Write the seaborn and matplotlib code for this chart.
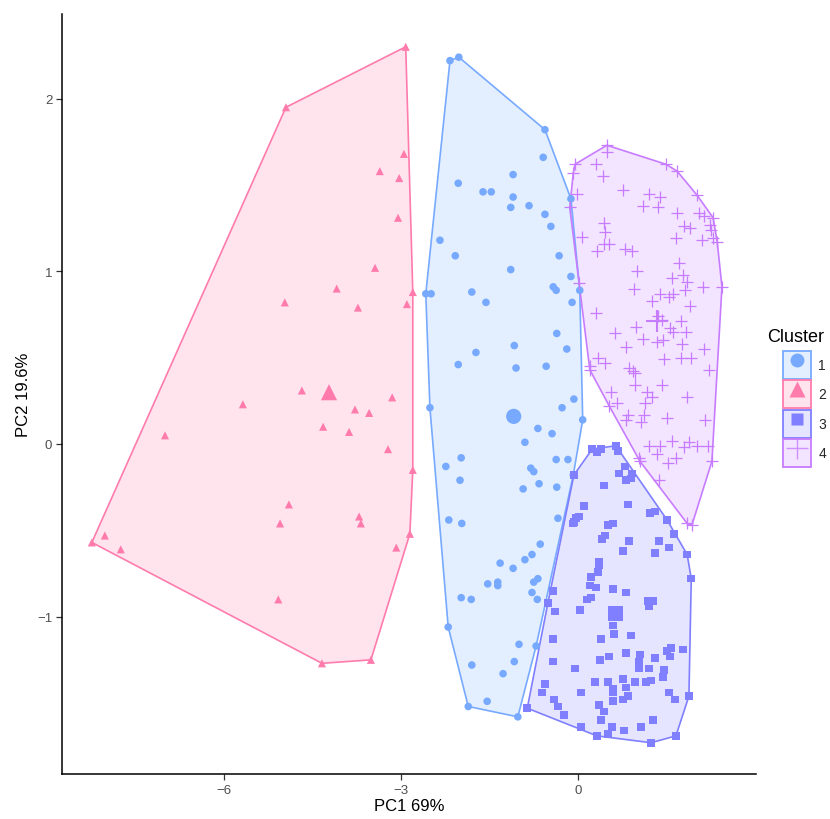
import numpy as np
import pandas as pd
import matplotlib
matplotlib.use("Agg")
import matplotlib.pyplot as plt
from matplotlib.patches import Polygon, Patch
from matplotlib.lines import Line2D
import seaborn as sns

# ---------------- data ----------------
c1_x = [-2.17, -2.02, -0.56, -0.59, -2.03, -1.61, -1.47, -1.10, -1.10, -1.14, -0.83, -0.56, -0.46, -0.12,
        -2.34, -2.08, -0.32, -1.14, -0.12, -0.42, -0.37, 0.03, -1.56, -0.10, -2.58, -2.49, -1.80, -0.36,
        -1.08, -0.19, -1.73, -2.03, -1.05, -0.54, -0.07, -0.27, -2.51, 0.08, -0.68, -0.44, -0.90, -1.98,
        -2.24, -0.37, -0.17, -0.80, -0.75, -2.00, -0.66, -0.93, -0.36, -0.08, -2.19, -1.97, -0.34, -0.64,
        -0.78, -0.90, -1.32, -1.10, -1.53, -1.36, -1.36, -0.68, -0.75, -0.78, -0.69, -1.98, -1.81, -2.20,
        -1.00, -0.71, -1.08, -1.80, -1.27, -1.86, -1.54, -1.02]
c1_y = [2.22, 2.24, 1.82, 1.66, 1.51, 1.46, 1.46, 1.56, 1.43, 1.37, 1.38, 1.33, 1.26, 1.42,
        1.18, 1.09, 1.09, 1.01, 0.97, 0.91, 0.89, 0.89, 0.82, 0.82, 0.87, 0.87, 0.88, 0.64,
        0.57, 0.55, 0.53, 0.46, 0.44, 0.45, 0.26, 0.21, 0.21, 0.14, 0.09, 0.06, 0.01, -0.08,
        -0.13, -0.09, -0.09, -0.14, -0.16, -0.21, -0.23, -0.26, -0.25, -0.18, -0.44, -0.46, -0.43, -0.58,
        -0.64, -0.67, -0.69, -0.72, -0.81, -0.80, -0.82, -0.78, -0.80, -0.86, -0.90, -0.89, -0.90, -1.06,
        -1.16, -1.17, -1.26, -1.28, -1.33, -1.52, -1.49, -1.58]

c2_x = [-2.92, -4.95, -2.95, -3.36, -3.03, -3.05, -3.44, -4.97, -4.09, -3.73, -2.90, -2.80, -4.68, -5.68,
        -7.00, -3.15, -3.78, -3.54, -4.32, -3.88, -3.22, -2.80, -4.90, -3.71, -3.68, -5.05, -8.24, -8.02,
        -7.75, -5.08, -4.34, -3.51, -2.85, -3.08]
c2_y = [2.30, 1.95, 1.68, 1.58, 1.54, 1.31, 1.02, 0.82, 0.90, 0.79, 0.81, 0.88, 0.31, 0.23,
        0.05, 0.27, 0.20, 0.18, 0.10, 0.07, -0.03, -0.15, -0.35, -0.42, -0.46, -0.46, -0.57, -0.53,
        -0.61, -0.90, -1.27, -1.25, -0.52, -0.60]

c3_x = [0.24, 0.32, 0.39, 0.64, 0.68, 0.80, 0.69, 0.92, 0.81, 0.90, 0.44, -0.07, 0.10, 0.85, 0.02, -0.03,
        -0.08, -0.07, 1.22, 1.31, 1.51, 0.51, 0.59, 1.63, 0.41, 0.46, 0.86, 1.37, 1.54, 0.76, 1.31, 1.85,
        0.36, 0.36, 0.34, 0.22, 1.92, 0.20, 0.31, 0.59, 0.81, -0.42, 0.22, 0.15, -0.51, 1.19, 1.27, 1.20,
        -0.39, 0.03, 0.59, 0.61, 0.90, -0.42, 0.39, 1.58, 1.78, 1.51, 1.56, 0.81, 1.05, 0.53, 0.37, 1.03,
        1.31, -0.42, -0.05, 1.03, 1.20, 1.46, 1.44, 0.76, 0.97, 0.51, 0.29, 1.15, 1.24, -0.56, 0.59, 0.81,
        0.59, -0.61, 0.05, 1.54, 0.76, 0.85, 1.64, 1.88, -0.41, 0.59, 0.36, -0.34, 0.44, -0.86, -0.24, 0.39,
        1.27, 0.05, 0.58, 0.78, 1.07, 0.32, 0.51, 1.24, 1.66]
c3_y = [-0.03, -0.05, -0.03, -0.01, -0.04, -0.13, -0.17, -0.17, -0.21, -0.20, -0.24, -0.18, -0.36, -0.35,
        -0.42, -0.43, -0.46, -0.45, -0.40, -0.39, -0.44, -0.47, -0.46, -0.52, -0.55, -0.53, -0.56, -0.56,
        -0.60, -0.62, -0.63, -0.64, -0.68, -0.70, -0.74, -0.77, -0.78, -0.82, -0.83, -0.84, -0.86, -0.85,
        -0.89, -0.90, -0.92, -0.91, -0.91, -0.94, -0.97, -0.96, -1.05, -1.10, -1.11, -1.13, -1.13, -1.18,
        -1.19, -1.20, -1.23, -1.21, -1.22, -1.23, -1.25, -1.26, -1.24, -1.26, -1.30, -1.30, -1.30, -1.31,
        -1.35, -1.36, -1.38, -1.38, -1.38, -1.38, -1.37, -1.39, -1.42, -1.41, -1.44, -1.44, -1.44, -1.44,
        -1.48, -1.46, -1.48, -1.46, -1.48, -1.49, -1.51, -1.52, -1.55, -1.53, -1.57, -1.60, -1.60, -1.64,
        -1.64, -1.66, -1.64, -1.69, -1.68, -1.73, -1.69]

c4_x = [0.49, 0.49, -0.05, -0.08, 0.31, 0.42, 1.49, 1.68, 0.76, 1.20, 1.39, 2.02, -0.02, -0.14, 1.10,
        1.36, 1.68, 2.05, 2.29, 2.14, 0.44, 0.46, 1.80, 1.90, 2.24, 2.25, 0.07, 1.66, 2.10, 2.29, 2.36,
        0.44, 0.53, 0.32, 0.80, 0.92, 1.71, 1.00, 1.78, 1.59, 1.85, 0.02, 0.95, 2.12, 2.44, 1.39, 1.61,
        1.54, 1.81, 1.25, 1.90, 0.31, 1.36, 1.42, 1.75, 0.98, 1.56, 1.61, 1.83, 0.63, 1.10, 1.34, 1.44,
        1.76, 0.81, 2.14, 1.46, 1.75, 1.92, 0.34, 0.46, 0.20, 0.20, 0.86, 0.93, 2.22, 0.97, 0.97, 1.42,
        0.56, 1.17, 1.25, 1.85, 0.53, 0.66, 1.14, 0.85, 1.12, 1.51, 2.15, 0.81, 1.07, 1.59, 1.20, 1.39,
        1.88, 1.80, 2.02, 2.20, 1.34, 1.03, 1.66, 2.27, 1.05, 1.53, 1.37, 1.85, 1.93]
c4_y = [1.73, 1.69, 1.62, 1.57, 1.62, 1.55, 1.62, 1.58, 1.47, 1.45, 1.43, 1.44, 1.45, 1.37, 1.38,
        1.37, 1.34, 1.34, 1.31, 1.32, 1.28, 1.23, 1.26, 1.25, 1.27, 1.24, 1.20, 1.19, 1.18, 1.19, 1.17,
        1.16, 1.16, 1.12, 1.13, 1.12, 1.05, 1.00, 0.98, 0.96, 0.94, 0.93, 0.90, 0.91, 0.91, 0.87, 0.87,
        0.85, 0.89, 0.83, 0.80, 0.76, 0.74, 0.72, 0.71, 0.68, 0.67, 0.65, 0.65, 0.64, 0.61, 0.59, 0.60,
        0.58, 0.56, 0.55, 0.49, 0.50, 0.50, 0.50, 0.47, 0.45, 0.43, 0.44, 0.42, 0.43, 0.41, 0.34, 0.34,
        0.30, 0.30, 0.27, 0.27, 0.22, 0.24, 0.24, 0.17, 0.17, 0.15, 0.14, 0.14, 0.13, 0.02, -0.01, -0.01,
        0.01, -0.02, -0.01, -0.01, -0.06, -0.08, -0.08, -0.10, -0.10, -0.11, -0.21, -0.46, -0.47]

# cluster centres (drawn larger)
centre_x = [-1.09, -4.22, 0.63, 1.34]
centre_y = [0.16, 0.30, -0.98, 0.71]

clusters = ["1", "2", "3", "4"]
colors = ["#77AAFF", "#FF7BAC", "#7F7FFF", "#C77CFF"]
markers = ["o", "^", "s", "+"]

xs = [c1_x, c2_x, c3_x, c4_x]
ys = [c1_y, c2_y, c3_y, c4_y]
df = pd.concat([pd.DataFrame({"PC1": x, "PC2": y, "Cluster": c})
                for x, y, c in zip(xs, ys, clusters)], ignore_index=True)
centres = pd.DataFrame({"PC1": centre_x, "PC2": centre_y, "Cluster": clusters})


def convex_hull(pts):
    pts = sorted(set(map(tuple, pts)))
    if len(pts) <= 2:
        return pts

    def cross(o, a, b):
        return (a[0] - o[0]) * (b[1] - o[1]) - (a[1] - o[1]) * (b[0] - o[0])
    lower, upper = [], []
    for p in pts:
        while len(lower) >= 2 and cross(lower[-2], lower[-1], p) <= 0:
            lower.pop()
        lower.append(p)
    for p in reversed(pts):
        while len(upper) >= 2 and cross(upper[-2], upper[-1], p) <= 0:
            upper.pop()
        upper.append(p)
    return lower[:-1] + upper[:-1]


# ---------------- figure ----------------
sns.set_theme(style="white")
plt.rcParams["font.family"] = ["Liberation Sans", "DejaVu Sans"]

fig = plt.figure(figsize=(8.3, 8.2), dpi=100)
ax = fig.add_axes([62 / 830, 1 - 775 / 820, (756 - 62) / 830, (775 - 15) / 820])

for c, col, mk in zip(clusters, colors, markers):
    sub = df[df["Cluster"] == c]
    hull = convex_hull(sub[["PC1", "PC2"]].values)
    ax.add_patch(Polygon(hull, closed=True, facecolor=col, alpha=0.2, edgecolor="none", zorder=1))
    ax.add_patch(Polygon(hull, closed=True, facecolor="none", edgecolor=col, lw=1.2, zorder=2))

for c, col, mk in zip(clusters, colors, markers):
    sub = df[df["Cluster"] == c]
    cen = centres[centres["Cluster"] == c]
    if mk == "+":
        sns.scatterplot(data=sub, x="PC1", y="PC2", marker="+", color=col, s=80,
                        linewidth=0.9, ax=ax, legend=False, zorder=3)
        sns.scatterplot(data=cen, x="PC1", y="PC2", marker="+", color=col, s=240,
                        linewidth=1.5, ax=ax, legend=False, zorder=3)
    else:
        sz = 30 if mk != "^" else 34
        sns.scatterplot(data=sub, x="PC1", y="PC2", marker=mk, color=col, s=sz,
                        edgecolor="none", ax=ax, legend=False, zorder=3)
        sns.scatterplot(data=cen, x="PC1", y="PC2", marker=mk, color=col, s=sz * 4,
                        edgecolor="none", ax=ax, legend=False, zorder=3)

ax.set_xlim(-8.746, 3.017)
ax.set_ylim(-1.911, 2.49)
ax.set_xticks([-6, -3, 0])
ax.set_yticks([-1, 0, 1, 2])
for s in ["top", "right"]:
    ax.spines[s].set_visible(False)
for s in ["left", "bottom"]:
    ax.spines[s].set_color("black")
    ax.spines[s].set_linewidth(1.1)
ax.tick_params(axis="both", which="both", length=4, width=0.9, color="#333333",
               labelsize=9.5, labelcolor="#4D4D4D", left=True, bottom=True, pad=3)
ax.set_xlabel("PC1 69%", fontsize=12, color="black", labelpad=2)
ax.set_ylabel("PC2 19.6%", fontsize=12, color="black", labelpad=4)

# legend
handles = []
msize = {"o": 10, "^": 11, "s": 9, "+": 16}
for col, mk in zip(colors, markers):
    p = Patch(facecolor=matplotlib.colors.to_rgba(col, 0.2), edgecolor=col, linewidth=1.3)
    if mk == "+":
        m = Line2D([], [], marker="+", color=col, alpha=0.8, linestyle="none",
                   markersize=msize[mk], markeredgewidth=1.0)
    else:
        m = Line2D([], [], marker=mk, color=col, markeredgecolor="none", linestyle="none",
                   markersize=msize[mk])
    handles.append((p, m))
fig.text(767 / 830, 1 - 338 / 820, "Cluster", fontsize=13, ha="left", va="center", color="black")
leg = fig.legend(handles, clusters, loc="upper left",
                 bbox_to_anchor=(783 / 830, 1 - 352 / 820), frameon=False,
                 fontsize=10, handlelength=2.0, handleheight=2.7, borderpad=0,
                 handletextpad=0.55, labelspacing=0.12, borderaxespad=0)

fig.savefig("out.png", dpi=100)
